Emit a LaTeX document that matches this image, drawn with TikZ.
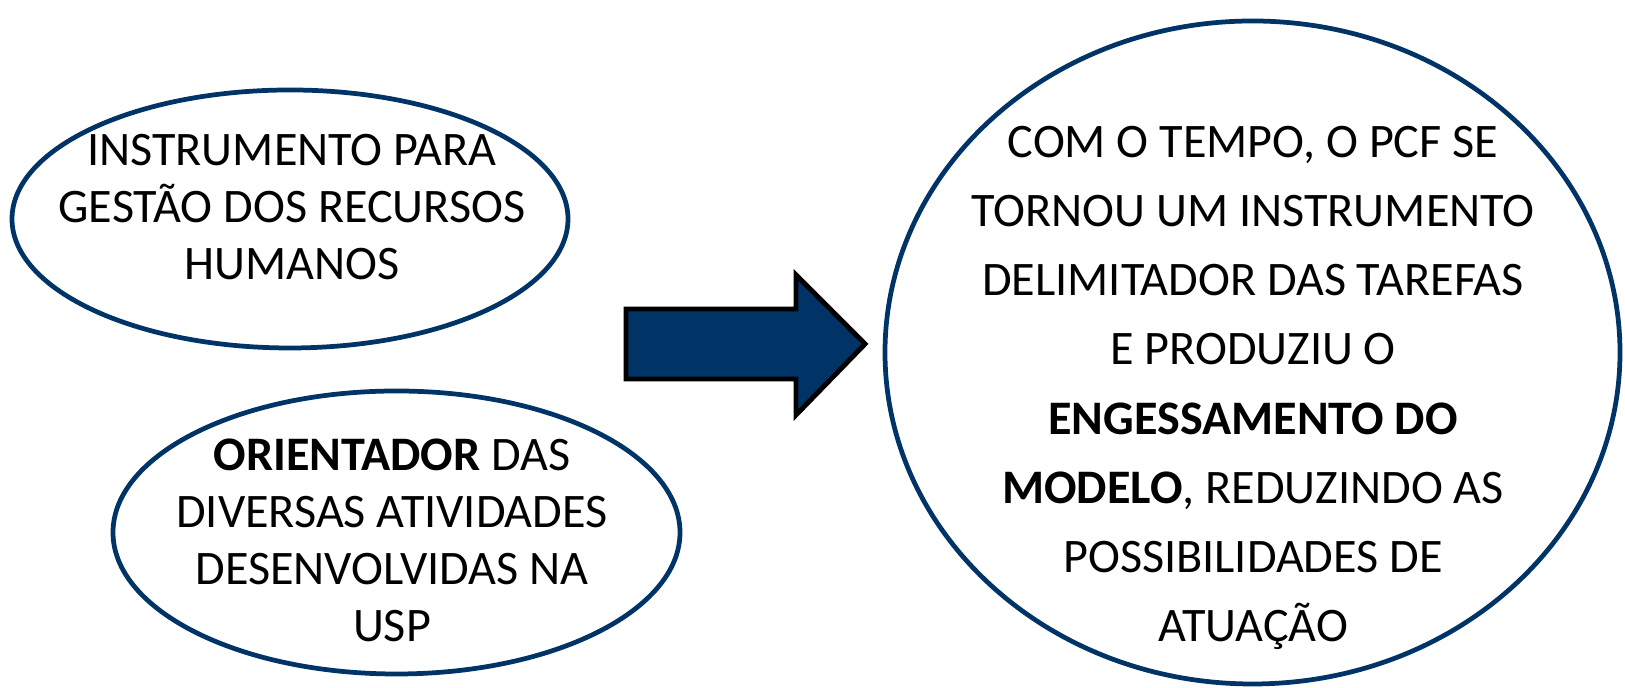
\documentclass[tikz,border=0pt]{standalone}
\usepackage{fontspec}
\setmainfont{Carlito}
\usetikzlibrary{shapes.geometric}
\definecolor{pcfblue}{RGB}{0,51,102}

\begin{document}
\begin{tikzpicture}[bubble/.style={draw=pcfblue,line width=1.35pt,ellipse,inner sep=0pt},
                    caption/.style={align=center,inner sep=0pt,font=\fontsize{13.7}{16.2}\selectfont}]
                    \useasboundingbox (0,0) rectangle (16.25,6.88);
                    \node[bubble,minimum width=5.56cm,minimum height=2.58cm] (gestao) at (2.90,4.69) {};
                    \node[caption] (gestaotxt) at (2.92,4.81) {INSTRUMENTO PARA\\GESTÃO DOS RECURSOS\\HUMANOS};
                    \node[bubble,minimum width=5.67cm,minimum height=2.83cm] (orient) at (3.965,1.555) {};
                    \node[caption] (orienttxt) at (3.92,1.48) {\textbf{ORIENTADOR} DAS\\DIVERSAS ATIVIDADES\\DESENVOLVIDAS NA\\USP};
                    \node[bubble,minimum width=7.35cm,minimum height=6.63cm] (tempo) at (12.525,3.355) {};
                    \node[caption,font=\fontsize{13.7}{19.7}\selectfont] (tempotxt) at (12.53,3.00) {COM O TEMPO, O PCF SE\\TORNOU UM INSTRUMENTO\\DELIMITADOR DAS TAREFAS\\E PRODUZIU O\\\textbf{ENGESSAMENTO DO}\\\textbf{MODELO}, REDUZINDO AS\\POSSIBILIDADES DE\\ATUAÇÃO};
                    \draw[line width=1.4pt,fill=pcfblue] (6.26,3.79) -- (7.96,3.79) -- (7.96,4.13) -- (8.65,3.44) -- (7.96,2.73) -- (7.96,3.09) -- (6.26,3.09) -- cycle;
                \end{tikzpicture}
\end{document}
